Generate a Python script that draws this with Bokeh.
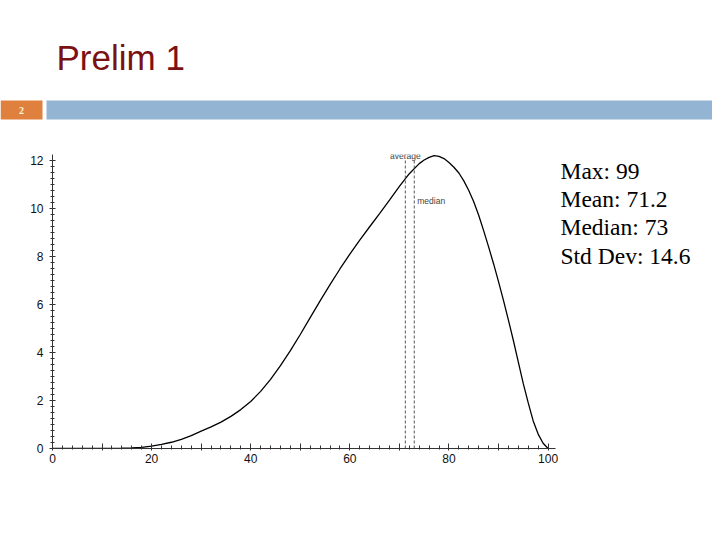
from bokeh.plotting import figure
from bokeh.layouts import column, row
from bokeh.models import Range1d, FixedTicker, Label
from bokeh.core.properties import value
from bokeh.embed import file_html
from bokeh.resources import INLINE

# ---- data ----
score = [0, 5, 10, 14, 16, 18, 20, 22, 24, 26, 28, 30, 32, 34, 36, 38, 40, 42, 44,
         46, 48, 50, 52, 54, 56, 58, 60, 62, 64, 66, 68, 70, 72, 74, 75, 76, 77, 78,
         79, 80, 81, 82, 83, 84, 85, 86, 87, 88, 89, 90, 91, 92, 93, 94, 95, 96, 97,
         98, 99, 100]
density = [0, 0, 0, 0.01, 0.025, 0.05, 0.1, 0.17, 0.26, 0.38, 0.54, 0.72, 0.9, 1.1,
           1.34, 1.62, 1.96, 2.38, 2.88, 3.45, 4.08, 4.75, 5.45, 6.15, 6.83, 7.48, 8.1,
           8.68, 9.24, 9.79, 10.35, 10.92, 11.45, 11.87, 12.02, 12.13, 12.2, 12.17,
           12.08, 11.92, 11.72, 11.48, 11.15, 10.75, 10.28, 9.72, 9.08, 8.4, 7.7, 6.95,
           6.17, 5.35, 4.5, 3.6, 2.7, 1.9, 1.15, 0.6, 0.22, 0]
MEAN = 71.2
MEDIAN = 73
marker_names = ["average", "median"]
marker_values = [MEAN, MEDIAN]
marker_tops = [12.1, 12.05]
stats_lines = ["Max: 99", "Mean: 71.2", "Median: 73", "Std Dev: 14.6"]
x_major = list(range(0, 101, 10))
x_minor = list(range(0, 101, 2))
x_labels_hidden = {t: "" for t in x_major if t % 20 != 0}
y_major = list(range(0, 13, 2))
y_minor = [i * 0.25 for i in range(0, 49)]
TITLE = "Prelim 1"
SLIDE_NO = "2"

FONT = "Liberation Sans"
TOTAL_W = 704
HEADER_W = 712
HEADER_H = 128
PLOT_W = 558
ROW_H = 347
BORDER_TOP = 26
BORDER_BOTTOM = 27

# ---- header (coordinates in pixels) ----
h = figure(width=HEADER_W, height=HEADER_H, x_range=Range1d(0, HEADER_W),
           y_range=Range1d(HEADER_H, 0), x_axis_type=None, y_axis_type=None,
           toolbar_location=None, output_backend="svg", min_border=0,
           outline_line_color=None)
h.quad(left=[0], right=[42], top=[100], bottom=[119], fill_color="#E0803F", line_color=None)
h.quad(left=[46], right=[HEADER_W], top=[100], bottom=[119], fill_color="#93B4D3",
       line_color=None)
h.text(x=[56], y=[57], text=[TITLE], text_font=value(FONT), text_font_size="35px",
       text_color="#7B1113", text_baseline="middle", text_align="left")
h.text(x=[21], y=[110], text=[SLIDE_NO], text_font=value("Liberation Serif"),
       text_font_size="10px", text_font_style="bold", text_color="#FFF3DC",
       text_baseline="middle", text_align="center")

# ---- main plot ----
p = figure(width=PLOT_W, height=ROW_H, x_range=Range1d(0, 101.5),
           y_range=Range1d(0, 12.25), toolbar_location=None, output_backend="svg",
           min_border_left=52, min_border_right=3, min_border_top=BORDER_TOP,
           min_border_bottom=BORDER_BOTTOM, outline_line_color=None)
p.grid.visible = False

p.xaxis.ticker = FixedTicker(ticks=x_major, minor_ticks=x_minor)
p.xaxis.major_label_overrides = x_labels_hidden
p.yaxis.ticker = FixedTicker(ticks=y_major, minor_ticks=y_minor)
for ax in (p.xaxis, p.yaxis):
    ax.axis_line_color = "#333333"
    ax.major_tick_line_color = "#333333"
    ax.minor_tick_line_color = "#333333"
    ax.major_label_text_font = FONT
    ax.major_label_text_font_size = "12px"
    ax.major_label_text_color = "#111111"
p.yaxis.major_tick_in = 3
p.yaxis.major_tick_out = 3
p.yaxis.minor_tick_in = 2
p.yaxis.minor_tick_out = 2
p.yaxis.major_label_standoff = 6
p.xaxis.major_tick_in = 5
p.xaxis.major_tick_out = 2
p.xaxis.minor_tick_in = 3
p.xaxis.minor_tick_out = 1
p.xaxis.major_label_standoff = 3

p.line(score, density, line_color="black", line_width=1.3)
p.segment(x0=marker_values, y0=[0, 0], x1=marker_values, y1=marker_tops,
          line_color="#555555", line_dash="3 2", line_width=1)

p.add_layout(Label(x=MEAN, y=12.2, text=marker_names[0], text_font=FONT,
                   text_font_size="8.5px", text_color="#444444",
                   text_align="center", text_baseline="middle"))
p.add_layout(Label(x=MEDIAN, y=10.3, x_offset=3, text=marker_names[1], text_font=FONT,
                   text_font_size="8.5px", text_color="#444444",
                   text_align="left", text_baseline="middle"))

# ---- stats text (coordinates in page pixels; frame spans y 154..448) ----
frame_top = HEADER_H + BORDER_TOP
frame_bottom = HEADER_H + ROW_H - BORDER_BOTTOM
s = figure(width=TOTAL_W - PLOT_W, height=ROW_H, x_range=Range1d(PLOT_W, TOTAL_W),
           y_range=Range1d(frame_bottom, frame_top), x_axis_type=None, y_axis_type=None,
           toolbar_location=None, output_backend="svg", min_border_left=0,
           min_border_right=0, min_border_top=BORDER_TOP, min_border_bottom=BORDER_BOTTOM,
           outline_line_color=None)
ys = [170 + i * 28.4 for i in range(len(stats_lines))]
s.text(x=[560] * len(stats_lines), y=ys, text=stats_lines,
       text_font=value("Liberation Serif"), text_font_size="23.5px",
       text_color="black", text_baseline="alphabetic", text_align="left")

layout = column(h, row(p, s, spacing=0), spacing=0)
open("out.html", "w").write(file_html(layout, INLINE))
